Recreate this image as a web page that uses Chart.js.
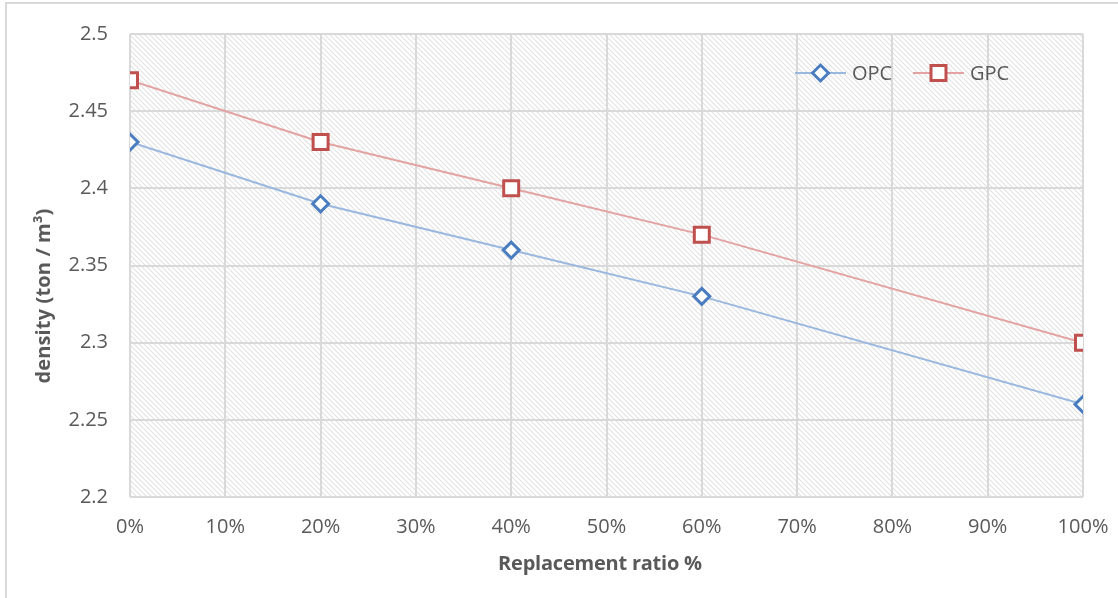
<!DOCTYPE html>
<html>
<head>
<meta charset="utf-8">
<script src="https://cdn.jsdelivr.net/npm/chart.js@4.4.1/dist/chart.umd.min.js"></script>
<style>
  html, body { margin: 0; padding: 0; background: #fff; }
  #wrap { position: relative; width: 1118px; height: 598px; }
  #frame { position: absolute; left: 5px; top: 2px; width: 1120px; height: 610px;
           border-left: 2px solid #d9d9d9; border-top: 2px solid #d9d9d9; box-sizing: border-box; }
  canvas { position: absolute; left: 0; top: 0; }
</style>
</head>
<body>
<div id="wrap">
  <div id="frame"></div>
  <canvas id="c" width="1118" height="598"></canvas>
</div>
<script>
// Replacement ratio (%) and measured density (ton / m³)
const ratios = [0, 20, 40, 60, 100];
const opcDensity = [2.43, 2.39, 2.36, 2.33, 2.26];
const gpcDensity = [2.47, 2.43, 2.40, 2.37, 2.30];
const seriesNames = ['OPC', 'GPC'];
const xTitle = 'Replacement ratio %';
const yTitle = 'density (ton / m³)';

const FONT = '"Open Sans", "Liberation Sans", sans-serif';
const TEXT = '#595959';
const GRID = '#d9d9d9';

const toPoints = (xs, ys) => xs.map((x, i) => ({ x: x, y: ys[i] }));

// diagonal hatch tile for the plot background
function hatchPattern(ctx) {
  const p = 5;
  const tile = document.createElement('canvas');
  tile.width = p; tile.height = p;
  const t = tile.getContext('2d');
  t.fillStyle = '#ffffff';
  t.fillRect(0, 0, p, p);
  t.strokeStyle = '#e2e2e2';
  t.lineWidth = 1.1;
  t.beginPath();
  t.moveTo(-1, -1); t.lineTo(p + 1, p + 1);
  t.moveTo(-1, p - 1); t.lineTo(1, p + 1);
  t.moveTo(p - 1, -1); t.lineTo(p + 1, 1);
  t.stroke();
  return ctx.createPattern(tile, 'repeat');
}

const plotBackground = {
  id: 'plotBackground',
  beforeDraw(chart) {
    const { ctx, chartArea: a } = chart;
    ctx.save();
    ctx.fillStyle = hatchPattern(ctx);
    ctx.fillRect(a.left, a.top, a.right - a.left, a.bottom - a.top);
    ctx.restore();
  }
};

// draws text spread to a given width
function fitText(ctx, text, x, y, width) {
  const base = ctx.measureText(text).width;
  if ('letterSpacing' in ctx) {
    const extra = (width - base) / Math.max(text.length - 1, 1);
    ctx.letterSpacing = extra.toFixed(2) + 'px';
  }
  ctx.fillText(text, x, y);
  if ('letterSpacing' in ctx) ctx.letterSpacing = '0px';
}

const axisTitles = {
  id: 'axisTitles',
  afterDraw(chart) {
    const { ctx } = chart;
    ctx.save();
    ctx.fillStyle = TEXT;
    ctx.font = 'bold 20px ' + FONT;
    ctx.textAlign = 'center';
    ctx.textBaseline = 'middle';
    fitText(ctx, xTitle, 600, 564, 204);
    ctx.translate(44, 296);
    ctx.rotate(-Math.PI / 2);
    fitText(ctx, yTitle, 0, 0, 175);
    ctx.restore();
  }
};

function drawMarker(ctx, style, r, x, y) {
  if (style === 'rect') {
    const s = Math.SQRT1_2 * r;
    ctx.rect(x - s, y - s, 2 * s, 2 * s);
  } else {
    ctx.moveTo(x - r, y); ctx.lineTo(x, y - r);
    ctx.lineTo(x + r, y); ctx.lineTo(x, y + r);
    ctx.closePath();
  }
}

const insideLegend = {
  id: 'insideLegend',
  afterDatasetsDraw(chart) {
    const { ctx } = chart;
    const entries = [
      { x: 795, ds: chart.data.datasets[0] },
      { x: 913, ds: chart.data.datasets[1] }
    ];
    const y = 73;
    ctx.save();
    entries.forEach(e => {
      const ds = e.ds;
      ctx.strokeStyle = ds.borderColor;
      ctx.lineWidth = ds.borderWidth;
      ctx.beginPath();
      ctx.moveTo(e.x, y); ctx.lineTo(e.x + 51, y);
      ctx.stroke();
      ctx.fillStyle = ds.pointBackgroundColor;
      ctx.strokeStyle = ds.pointBorderColor;
      ctx.lineWidth = ds.pointBorderWidth;
      ctx.beginPath();
      drawMarker(ctx, ds.pointStyle, ds.pointRadius, e.x + 25.5, y);
      ctx.fill(); ctx.stroke();
      ctx.fillStyle = TEXT;
      ctx.font = '20px ' + FONT;
      ctx.textAlign = 'left';
      ctx.textBaseline = 'middle';
      ctx.fillText(ds.label, e.x + 57, y + 1);
    });
    ctx.restore();
  }
};

new Chart(document.getElementById('c'), {
  type: 'scatter',
  data: {
    datasets: [
      {
        label: seriesNames[0],
        data: toPoints(ratios, opcDensity),
        showLine: true,
        borderColor: '#9ab8df',
        borderWidth: 2,
        pointStyle: 'rectRot',
        pointRadius: 8,
        pointHoverRadius: 8,
        pointBorderWidth: 3,
        pointBorderColor: '#4a7dbf',
        pointBackgroundColor: '#ffffff'
      },
      {
        label: seriesNames[1],
        data: toPoints(ratios, gpcDensity),
        showLine: true,
        borderColor: '#e3a3a2',
        borderWidth: 2,
        pointStyle: 'rect',
        pointRadius: 10.6,
        pointHoverRadius: 10.6,
        pointBorderWidth: 3,
        pointBorderColor: '#c0504d',
        pointBackgroundColor: '#ffffff'
      }
    ]
  },
  options: {
    responsive: false,
    animation: false,
    layout: { padding: { left: 0, right: 35, top: 32, bottom: 0 } },
    plugins: {
      legend: { display: false },
      tooltip: { enabled: false }
    },
    scales: {
      x: {
        type: 'linear',
        min: 0, max: 100,
        afterFit(scale) {
          scale.height = 101;
          scale.paddingLeft = 0;
          scale.paddingRight = 0;
        },
        border: { display: false },
        grid: { color: GRID, lineWidth: 2, drawTicks: false },
        ticks: {
          stepSize: 10,
          padding: 18,
          color: TEXT,
          font: { family: FONT, size: 20 },
          maxRotation: 0,
          callback: v => v + '%'
        }
      },
      y: {
        min: 2.2, max: 2.5,
        afterFit(scale) { scale.width = 130; },
        border: { display: false },
        grid: { color: GRID, lineWidth: 2, drawTicks: false },
        ticks: {
          stepSize: 0.05,
          padding: 22,
          color: TEXT,
          font: { family: FONT, size: 20 },
          callback: v => String(+v.toFixed(2))
        }
      }
    }
  },
  plugins: [plotBackground, axisTitles, insideLegend]
});
</script>
</body>
</html>
